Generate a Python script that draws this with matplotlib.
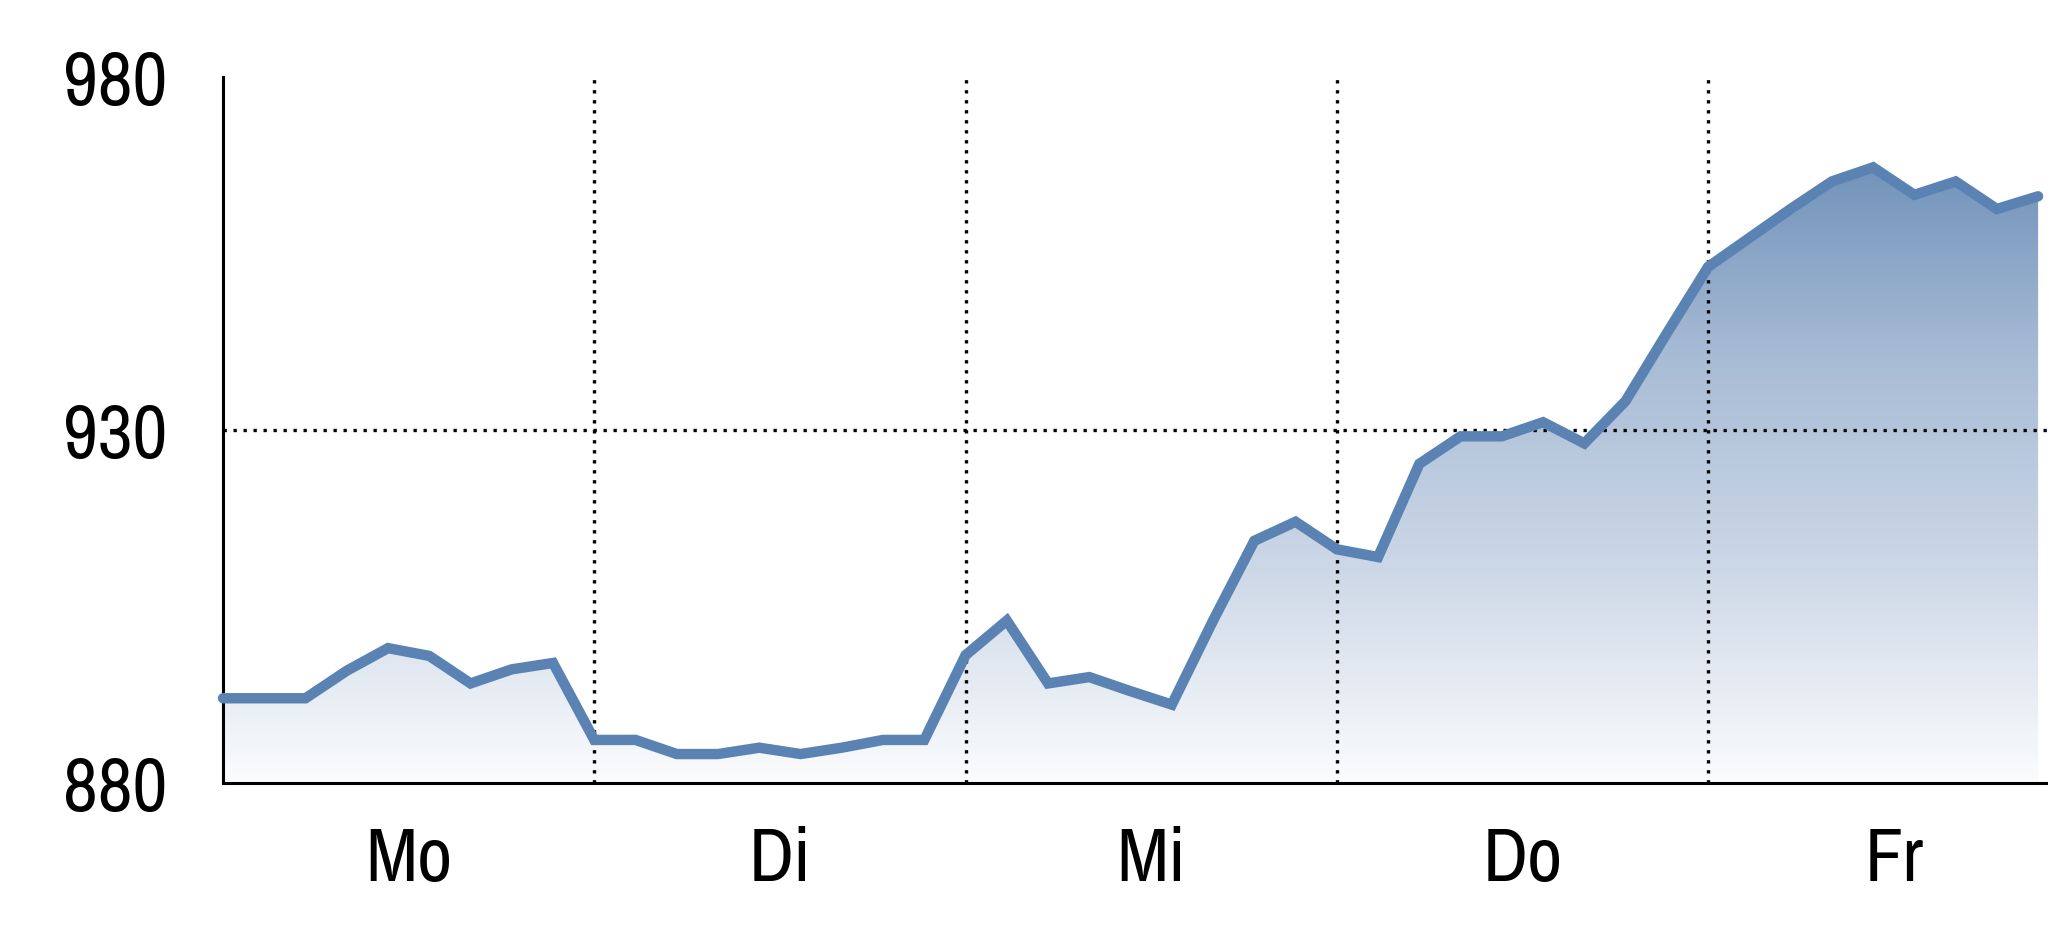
import numpy as np
import matplotlib.pyplot as plt
from matplotlib.colors import LinearSegmentedColormap

# Data: one value per step, 9 steps per day
values = [892.0, 892.0, 892.0, 895.9, 899.1, 898.0, 894.1, 896.1, 897.0,
          886.1, 886.1, 884.1, 884.1, 885.0, 884.1, 885.0, 886.1, 886.1,
          898.1, 903.0, 894.1, 895.0, 893.0, 891.1, 903.0, 914.3, 917.0,
          913.1, 912.0, 925.2, 929.1, 929.1, 931.1, 928.1, 934.1, 943.7,
          953.1, 957.2, 961.3, 965.2, 967.2, 963.3, 965.2, 961.3, 963.1]
days = ['Mo', 'Di', 'Mi', 'Do', 'Fr']
steps_per_day = 9
y_ticks = [880, 930, 980]

x = np.arange(len(values))
y = np.array(values)

plt.rcParams['font.family'] = ['Liberation Sans Narrow', 'Archivo Narrow', 'Liberation Sans', 'DejaVu Sans']

fig = plt.figure(figsize=(20.48, 9.37), dpi=100)
ax = fig.add_axes([0.1089, 0.1633, 0.8911, 0.7535])

ax.set_xlim(0, 44.24)
ax.set_ylim(880, 980)

# Gradient fill under the line
cmap = LinearSegmentedColormap.from_list(
    'fillgrad', ['#fbfcfd', '#cdd8e7', '#a8bcd5', '#6d8fb8'], N=256)
grad = np.linspace(0, 1, 256).reshape(-1, 1)
img = ax.imshow(grad, cmap=cmap, origin='lower', aspect='auto',
                extent=[0, x[-1], 880, 970], zorder=1)
poly = ax.fill_between(x, y, 880, color='none', lw=0)
clip_path = poly.get_paths()[0]
img.set_clip_path(clip_path, transform=ax.transData)

ax.plot(x, y, color='#5a83b4', lw=7.5, solid_capstyle='round',
        solid_joinstyle='miter', zorder=3, clip_on=False)

# Grid lines
for d in range(1, len(days)):
    ax.axvline(d * steps_per_day, color='black', ls=(0, (1, 2)), lw=2.4, zorder=2)
ax.axhline(930, color='black', ls=(0, (1, 2)), lw=2.4, zorder=2)

# Spines
for s in ['top', 'right']:
    ax.spines[s].set_visible(False)
ax.spines['left'].set_linewidth(2.2)
ax.spines['bottom'].set_linewidth(2.2)

ax.set_yticks(y_ticks)
ax.set_yticklabels([str(t) for t in y_ticks], fontsize=55)
ax.tick_params(axis='y', length=0, pad=40)

centers = [i * steps_per_day + steps_per_day / 2 for i in range(len(days))]
ax.set_xticks(centers)
ax.set_xticklabels(days, fontsize=55)
ax.tick_params(axis='x', length=0, pad=30)

fig.savefig('out.png', dpi=100)
